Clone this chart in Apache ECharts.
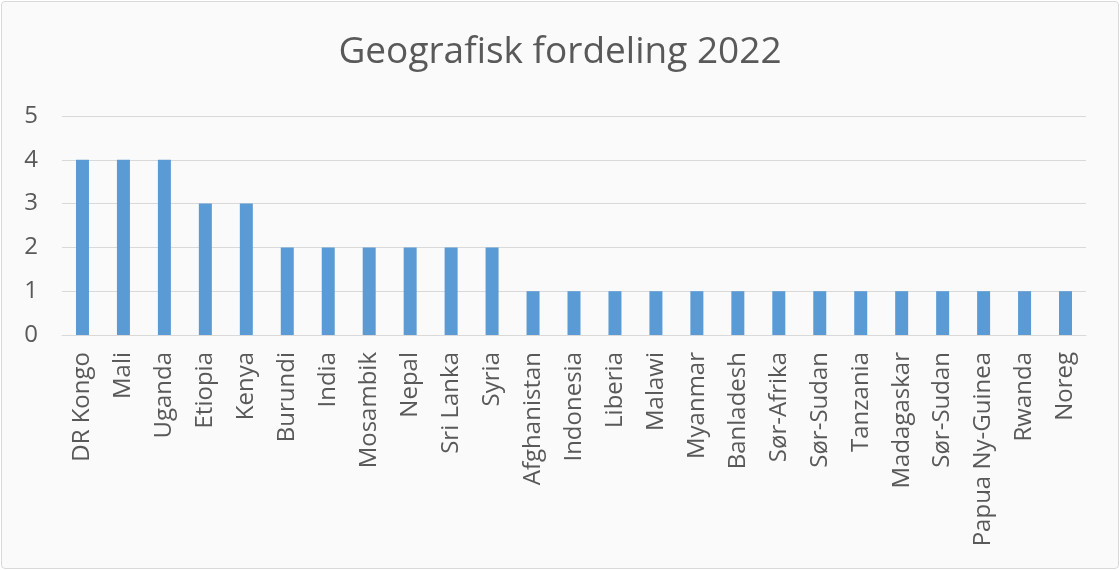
<!DOCTYPE html>
<html>
<head>
<meta charset="utf-8">
<script src="https://cdn.jsdelivr.net/npm/echarts@6/dist/echarts.min.js"></script>
<style>
  html, body { margin: 0; padding: 0; background: #fff; }
  #chart {
    position: absolute; left: 1px; top: 1px;
    width: 1116px; height: 566px;
    border: 1px solid #d9d9d9; border-radius: 4px;
    background: #fafafa;
  }
</style>
</head>
<body>
<div id="chart"></div>
<script>
// land og tal prosjekt
const countries = ['DR Kongo', 'Mali', 'Uganda', 'Etiopia', 'Kenya', 'Burundi', 'India', 'Mosambik',
  'Nepal', 'Sri Lanka', 'Syria', 'Afghanistan', 'Indonesia', 'Liberia', 'Malawi', 'Myanmar',
  'Banladesh', 'Sør-Afrika', 'Sør-Sudan', 'Tanzania', 'Madagaskar', 'Sør-Sudan',
  'Papua Ny-Guinea', 'Rwanda', 'Noreg']
const counts = [4, 4, 4, 3, 3, 2, 2, 2, 2, 2, 2, 1, 1, 1, 1, 1, 1, 1, 1, 1, 1, 1, 1, 1, 1]
const yTicks = [0, 1, 2, 3, 4, 5]

const chart = echarts.init(document.getElementById('chart'))
const font = '"Open Sans", "Noto Sans", sans-serif'

chart.setOption({
  animation: false,
  textStyle: { fontFamily: font },
  title: {
    text: 'Geografisk fordeling 2022',
    left: 'center',
    top: 27,
    textStyle: { fontSize: 37, fontWeight: 'normal', color: '#595959', fontFamily: font }
  },
  grid: { left: 60, right: 32, top: 114, bottom: 233 },
  xAxis: {
    type: 'category',
    data: countries,
    axisLine: { lineStyle: { color: '#d9d9d9', width: 1 } },
    axisTick: { show: false },
    axisLabel: {
      rotate: 90,
      interval: 0,
      margin: 17,
      fontSize: 24,
      color: '#595959',
      fontFamily: font
    }
  },
  yAxis: {
    type: 'value',
    min: yTicks[0],
    max: yTicks[yTicks.length - 1],
    interval: 1,
    axisLine: { show: false },
    axisTick: { show: false },
    splitLine: { lineStyle: { color: '#d9d9d9', width: 1 } },
    axisLabel: { fontSize: 24, color: '#595959', margin: 24, fontFamily: font }
  },
  series: [{
    type: 'bar',
    data: counts,
    barWidth: 13,
    itemStyle: { color: '#5b9bd5' }
  }]
})
</script>
</body>
</html>
